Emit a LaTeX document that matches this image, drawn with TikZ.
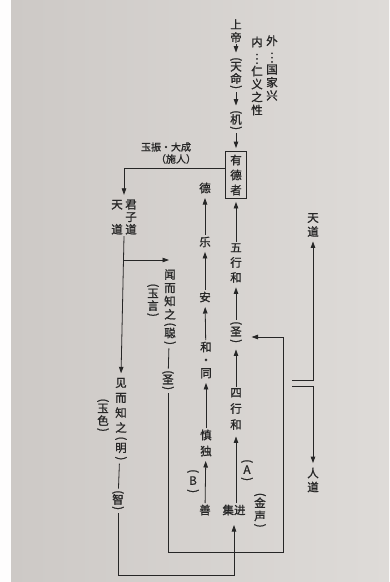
\documentclass[tikz,border=0pt]{standalone}
\usepackage{fontspec}
\usepackage{graphicx}
\usetikzlibrary{arrows.meta}
\newfontfamily\cjk{Noto Sans CJK SC}[BoldFont={Noto Sans CJK SC}, BoldFeatures={FakeBold=1.2}]
\definecolor{ink}{HTML}{262626}
\definecolor{paperL}{HTML}{CDC9C6}
\definecolor{paperR}{HTML}{DEDBD8}
\newcommand\popen{\rotatebox[origin=c]{-90}{(}}
\newcommand\pclose{\rotatebox[origin=c]{-90}{)}}
\newcommand\vdotz{\rotatebox[origin=c]{-90}{…}}
\tikzset{
  lbl/.style={text=ink, font=\cjk\bfseries\fontsize{11.5}{13}\selectfont, inner sep=1.5pt, align=center},
  sp/.style={font=\cjk\bfseries\fontsize{11.5}{#1}\selectfont},
  small/.style={font=\cjk\bfseries\fontsize{10}{12}\selectfont},
  arr/.style={draw=ink, line width=0.8pt, -{Triangle[length=6.5pt,width=4.5pt]}, shorten >=3pt},
  ln/.style={draw=ink, line width=0.8pt},
}
\begin{document}
\begin{tikzpicture}[x=1pt,y=-1pt]
\shade[left color=paperL,right color=paperR] (11,0) rectangle (389,582);
\fill[white!96!paperR] (0,0) rectangle (11,582);
\useasboundingbox (0,0) rectangle (389,582);

% top column
\node[lbl, sp=13] (shangdi) at (236,31) {上\\帝};
\node[lbl, sp=12] (tianming) at (236,74) {\popen\\[-4pt]天\\命\\[-4pt]\pclose};
\node[lbl, sp=12] (ji) at (236,121) {\popen\\[-4pt]机\\[-4pt]\pclose};
\node[lbl, sp=15, draw=ink, line width=0.8pt, minimum width=21pt, minimum height=47pt, inner sep=0pt] (youde) at (236,175) {有\\德\\者};
\node[lbl, sp=13] (wai) at (272,68) {外\\\vdotz\\国\\家\\兴};
\node[lbl, sp=13] (nei) at (257,76) {内\\\vdotz\\仁\\义\\之\\性};
\node[lbl, small] (yuzhen) at (166,147) {玉振·大成};
\node[lbl, small] (shiren) at (176,159) {（施人）};

% left part
\node[lbl, sp=12.5] (tianjun) at (124,217) {天\hspace{2.5pt}君\\\phantom{天}\hspace{2.5pt}子\\道\hspace{2.5pt}道};
\node[lbl, sp=13.3] (wen) at (170,308) {闻\\而\\知\\之\\[-4pt]\popen\\[-4pt]聪\\[-4pt]\pclose};
\node[lbl, sp=12.5] (yuyan) at (153,301) {\popen\\[-4pt]玉\\言\\[-4pt]\pclose};
\node[lbl, sp=12] (sheng1) at (168,381) {\popen\\[-4pt]圣\\[-4pt]\pclose};
\node[lbl, sp=15] (jian) at (121,420) {见\\而\\知\\之\\[-5pt]\popen\\[-5pt]明\\[-5pt]\pclose};
\node[lbl, sp=12.5] (yuse) at (103,416) {\popen\\[-4pt]玉\\色\\[-4pt]\pclose};
\node[lbl, sp=12] (zhi) at (118,501) {\popen\\[-4pt]智\\[-4pt]\pclose};

% middle column
\node[lbl] (de) at (205,188) {德};
\node[lbl] (le) at (205,242) {乐};
\node[lbl] (an) at (205,297) {安};
\node[lbl, sp=13] (hetong) at (206,360) {和\\·\\同};
\node[lbl, sp=16] (shendu) at (206,443) {慎\\独};
\node[lbl] (shan) at (205,510) {善};
\node[lbl, sp=12] (B) at (193,482) {\popen\\[-2pt]B\\[-2pt]\pclose};

% right column
\node[lbl, sp=15] (wuxing) at (236,263) {五\\行\\和};
\node[lbl, sp=12] (sheng2) at (236,333) {\popen\\[-3pt]圣\\[-3pt]\pclose};
\node[lbl, sp=16] (sixing) at (236,409) {四\\行\\和};
\node[lbl, sp=12] (A) at (247,471) {\popen\\[-3pt]A\\[-3pt]\pclose};
\node[lbl] (jijin) at (234,510) {集进};
\node[lbl, sp=13] (jinsheng) at (260,511) {\popen\\[-4pt]金\\声\\[-4pt]\pclose};
\node[lbl, sp=14] (tiandao) at (313,225) {天\\道};
\node[lbl, sp=14] (rendao) at (313,480) {人\\道};

% coordinates for free ends
\coordinate (br) at (124,260);
\coordinate (c1) at (283,552);
\coordinate (bot) at (0,575);
\coordinate (ua) at (292,380);
\coordinate (la) at (292,386);

% connectors
\draw[arr] (shangdi) -- (tianming);
\draw[arr] (tianming) -- (ji);
\draw[arr] (ji) -- (youde);
\draw[arr] ([yshift=7pt]youde.west) -| (tianjun.north);
\draw[arr] (tianjun.south) -- (jian.north);
\draw[arr, shorten >=1pt] (br) -- (br -| wen.north);
\draw[ln] (wen) -- (sheng1);
\draw[arr, shorten >=8pt] (sheng1.south) |- (c1) |- ([yshift=-4pt]sheng2.east);
\draw[ln] (jian) -- (zhi);
\draw[arr, shorten >=8pt] (zhi.south) -- (zhi.south |- bot) -| (jijin.south);

\draw[arr] (le) -- (de);
\draw[arr] (an) -- (le);
\draw[arr] (hetong) -- (an);
\draw[arr] (shendu) -- (hetong);
\draw[arr] (shan) -- (shendu);

\draw[arr] (wuxing) -- (youde);
\draw[arr] (sheng2) -- (wuxing);
\draw[arr] (sixing) -- (sheng2);
\draw[arr, shorten >=5pt] (jijin.north -| sixing.south) -- (sixing.south);

\draw[arr] (ua) -| (tiandao.south);
\draw[arr] (la) -| (rendao.north);
\end{tikzpicture}
\end{document}
